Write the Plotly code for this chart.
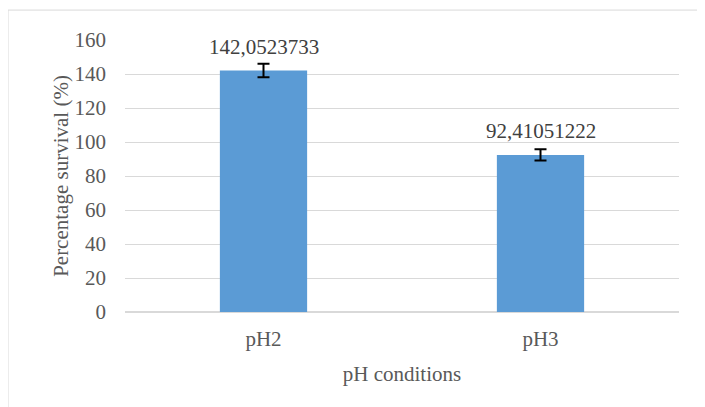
import plotly.graph_objects as go

categories = ["pH2", "pH3"]
values = [142.0523733, 92.41051222]
errors = [4.0, 3.3]
labels = ["142,0523733", "92,41051222"]

font = "Liberation Serif"
gray = "#595959"
fs = 21

fig = go.Figure()
fig.add_trace(go.Bar(
    x=categories, y=values,
    marker=dict(color="#5b9bd5", line=dict(width=0)),
    width=0.315,
    error_y=dict(type="data", array=errors, visible=True, color="black", thickness=2, width=6),
))
for c, v, e, t in zip(categories, values, errors, labels):
    fig.add_annotation(x=c, y=v, text=t, showarrow=False, yanchor="bottom",
                       yshift=10, font=dict(family=font, size=fs, color="#404040"))

# outer chart border (left and top visible)
fig.add_shape(type="line", xref="paper", yref="paper", x0=-0.2112, x1=-0.2112, y0=-0.5, y1=1.11,
              line=dict(color="#d9d9d9", width=1))
fig.add_shape(type="line", xref="paper", yref="paper", x0=-0.2112, x1=1.3, y0=1.11, y1=1.11,
              line=dict(color="#d9d9d9", width=1))

fig.update_layout(
    width=697, height=399,
    margin=dict(l=117, r=26, t=32, b=95),
    paper_bgcolor="white", plot_bgcolor="white",
    showlegend=False,
    font=dict(family=font, size=fs, color=gray),
    xaxis=dict(title=dict(text="pH conditions", font=dict(family=font, size=fs, color=gray), standoff=16),
               showgrid=False, showline=False, ticks="", ticklabelstandoff=12),
    yaxis=dict(title=dict(text="Percentage survival (%)", font=dict(family=font, size=fs, color=gray), standoff=0),
               range=[0, 160], dtick=20, showgrid=True, gridcolor="#d9d9d9", gridwidth=1,
               zeroline=True, zerolinecolor="#d9d9d9", zerolinewidth=1.5,
               showline=False, ticks="", ticklabelstandoff=18),
)

fig.write_html("out.html")
